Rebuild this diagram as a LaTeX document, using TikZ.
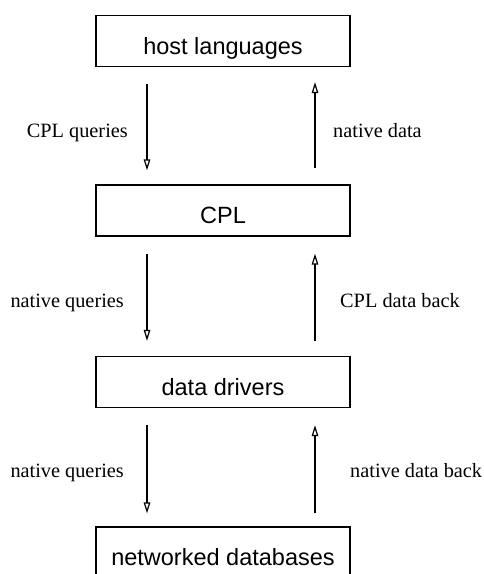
\documentclass[tikz,border=0pt]{standalone}
\usepackage{fontspec}
\setmainfont{Liberation Serif}
\newfontfamily\boxfont{Liberation Sans}
\usetikzlibrary{arrows.meta}
\begin{document}
\begin{tikzpicture}[x=1pt,y=-1pt,
  layer/.style={draw,line width=1.2pt,minimum width=254pt,minimum height=51pt,inner sep=0pt,
    text height=26.5pt,text depth=0pt,font=\boxfont\fontsize{23.5pt}{26pt}\selectfont},
  lbl/.style={inner sep=0pt,font=\fontsize{20.3pt}{24pt}\selectfont},
  flow/.style={line width=1.2pt,-{Triangle[open,length=11pt,width=6.5pt]}}]
\useasboundingbox (0,0) rectangle (483,574);
\clip (0,0) rectangle (483,574);
\coordinate (L) at (147,0);
\coordinate (R) at (315,0);
\node[layer] (host) at (223,41) {host languages};
\node[layer] (cpl) at (223,210.5) {CPL};
\node[layer] (drv) at (223,382) {data drivers};
\node[layer] (net) at (223,552.5) {networked databases};
% host <-> CPL
\draw[flow,shorten <=17pt,shorten >=14pt] (host.south -| L) -- (cpl.north -| L);
\draw[flow,shorten <=16pt,shorten >=15pt] (cpl.north -| R) -- (host.south -| R);
\node[lbl,anchor=base east] (q1) at (128,137) {CPL queries};
\node[lbl,anchor=base west] (d1) at (333,137) {native data};
% CPL <-> drivers
\draw[flow,shorten <=17pt,shorten >=15pt] (cpl.south -| L) -- (drv.north -| L);
\draw[flow,shorten <=15pt,shorten >=17pt] (drv.north -| R) -- (cpl.south -| R);
\node[lbl,anchor=base east] (q2) at (124,307) {native queries};
\node[lbl,anchor=base west] (d2) at (340,307) {CPL data back};
% drivers <-> databases
\draw[flow,shorten <=17pt,shorten >=13pt] (drv.south -| L) -- (net.north -| L);
\draw[flow,shorten <=13pt,shorten >=17pt] (net.north -| R) -- (drv.south -| R);
\node[lbl,anchor=base east] (q3) at (124,477) {native queries};
\node[lbl,anchor=base west] (d3) at (350,477) {native data back};
\end{tikzpicture}
\end{document}
